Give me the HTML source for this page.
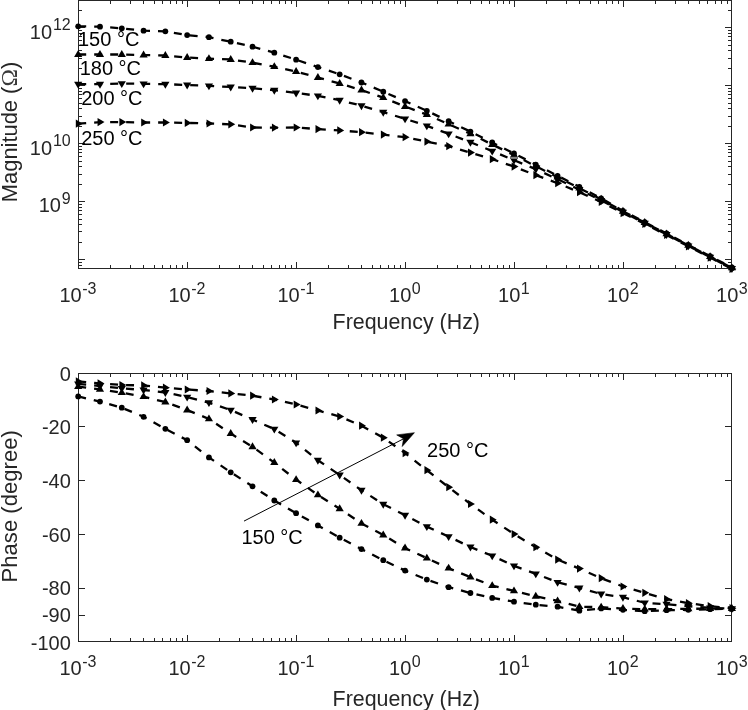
<!DOCTYPE html>
<html lang="en"><head><meta charset="utf-8"><title>Impedance magnitude and phase vs frequency</title>
<style>html,body{margin:0;padding:0;background:#fff;}body{width:748px;height:710px;overflow:hidden;}svg{display:block;}</style>
</head><body>
<svg width="748" height="710" viewBox="0 0 748 710" font-family="'Liberation Sans', sans-serif" fill="#262626">
<rect width="748" height="710" fill="#fff"/>
<g id="mag">
<rect x="78.5" y="0.5" width="653.0" height="268.0" fill="none" stroke="#262626" stroke-width="1"/>
<path d="M110.5 268.5v-3.5M110.5 0.5v3.5M130.5 268.5v-3.5M130.5 0.5v3.5M143.5 268.5v-3.5M143.5 0.5v3.5M154.5 268.5v-3.5M154.5 0.5v3.5M162.5 268.5v-3.5M162.5 0.5v3.5M170.5 268.5v-3.5M170.5 0.5v3.5M176.5 268.5v-3.5M176.5 0.5v3.5M182.5 268.5v-3.5M182.5 0.5v3.5M187.5 268.5v-6.5M187.5 0.5v6.5M219.5 268.5v-3.5M219.5 0.5v3.5M239.5 268.5v-3.5M239.5 0.5v3.5M252.5 268.5v-3.5M252.5 0.5v3.5M263.5 268.5v-3.5M263.5 0.5v3.5M271.5 268.5v-3.5M271.5 0.5v3.5M279.5 268.5v-3.5M279.5 0.5v3.5M285.5 268.5v-3.5M285.5 0.5v3.5M291.5 268.5v-3.5M291.5 0.5v3.5M296.5 268.5v-6.5M296.5 0.5v6.5M328.5 268.5v-3.5M328.5 0.5v3.5M348.5 268.5v-3.5M348.5 0.5v3.5M361.5 268.5v-3.5M361.5 0.5v3.5M372.5 268.5v-3.5M372.5 0.5v3.5M380.5 268.5v-3.5M380.5 0.5v3.5M388.5 268.5v-3.5M388.5 0.5v3.5M394.5 268.5v-3.5M394.5 0.5v3.5M400.5 268.5v-3.5M400.5 0.5v3.5M405.5 268.5v-6.5M405.5 0.5v6.5M437.5 268.5v-3.5M437.5 0.5v3.5M457.5 268.5v-3.5M457.5 0.5v3.5M470.5 268.5v-3.5M470.5 0.5v3.5M481.5 268.5v-3.5M481.5 0.5v3.5M489.5 268.5v-3.5M489.5 0.5v3.5M497.5 268.5v-3.5M497.5 0.5v3.5M503.5 268.5v-3.5M503.5 0.5v3.5M509.5 268.5v-3.5M509.5 0.5v3.5M514.5 268.5v-6.5M514.5 0.5v6.5M546.5 268.5v-3.5M546.5 0.5v3.5M566.5 268.5v-3.5M566.5 0.5v3.5M579.5 268.5v-3.5M579.5 0.5v3.5M590.5 268.5v-3.5M590.5 0.5v3.5M598.5 268.5v-3.5M598.5 0.5v3.5M606.5 268.5v-3.5M606.5 0.5v3.5M612.5 268.5v-3.5M612.5 0.5v3.5M618.5 268.5v-3.5M618.5 0.5v3.5M623.5 268.5v-6.5M623.5 0.5v6.5M655.5 268.5v-3.5M655.5 0.5v3.5M675.5 268.5v-3.5M675.5 0.5v3.5M688.5 268.5v-3.5M688.5 0.5v3.5M699.5 268.5v-3.5M699.5 0.5v3.5M707.5 268.5v-3.5M707.5 0.5v3.5M715.5 268.5v-3.5M715.5 0.5v3.5M721.5 268.5v-3.5M721.5 0.5v3.5M727.5 268.5v-3.5M727.5 0.5v3.5" stroke="#262626" stroke-width="1" fill="none"/>
<path d="M78.5 10.5h3.5M731.5 10.5h-3.5M78.5 27.5h6.5M731.5 27.5h-6.5M78.5 30.5h3.5M731.5 30.5h-3.5M78.5 33.5h3.5M731.5 33.5h-3.5M78.5 36.5h3.5M731.5 36.5h-3.5M78.5 40.5h3.5M731.5 40.5h-3.5M78.5 45.5h3.5M731.5 45.5h-3.5M78.5 50.5h3.5M731.5 50.5h-3.5M78.5 58.5h3.5M731.5 58.5h-3.5M78.5 68.5h3.5M731.5 68.5h-3.5M78.5 85.5h6.5M731.5 85.5h-6.5M78.5 88.5h3.5M731.5 88.5h-3.5M78.5 91.5h3.5M731.5 91.5h-3.5M78.5 94.5h3.5M731.5 94.5h-3.5M78.5 98.5h3.5M731.5 98.5h-3.5M78.5 103.5h3.5M731.5 103.5h-3.5M78.5 108.5h3.5M731.5 108.5h-3.5M78.5 116.5h3.5M731.5 116.5h-3.5M78.5 126.5h3.5M731.5 126.5h-3.5M78.5 143.5h6.5M731.5 143.5h-6.5M78.5 146.5h3.5M731.5 146.5h-3.5M78.5 149.5h3.5M731.5 149.5h-3.5M78.5 152.5h3.5M731.5 152.5h-3.5M78.5 156.5h3.5M731.5 156.5h-3.5M78.5 161.5h3.5M731.5 161.5h-3.5M78.5 166.5h3.5M731.5 166.5h-3.5M78.5 174.5h3.5M731.5 174.5h-3.5M78.5 184.5h3.5M731.5 184.5h-3.5M78.5 201.5h6.5M731.5 201.5h-6.5M78.5 204.5h3.5M731.5 204.5h-3.5M78.5 207.5h3.5M731.5 207.5h-3.5M78.5 210.5h3.5M731.5 210.5h-3.5M78.5 214.5h3.5M731.5 214.5h-3.5M78.5 219.5h3.5M731.5 219.5h-3.5M78.5 224.5h3.5M731.5 224.5h-3.5M78.5 231.5h3.5M731.5 231.5h-3.5M78.5 242.5h3.5M731.5 242.5h-3.5M78.5 259.5h6.5M731.5 259.5h-6.5M78.5 262.5h3.5M731.5 262.5h-3.5M78.5 265.5h3.5M731.5 265.5h-3.5" stroke="#262626" stroke-width="1" fill="none"/>
<polyline points="78.20,26.30 99.99,26.70 121.78,28.30 143.57,30.70 165.36,31.30 187.15,35.10 208.94,37.20 230.73,41.70 252.52,46.70 274.31,52.70 296.10,59.70 317.89,67.10 339.68,74.30 361.47,82.50 383.26,91.70 405.05,101.10 426.84,110.80 448.63,121.20 470.42,131.60 492.21,142.50 514.00,153.50 535.79,164.60 557.58,175.80 579.37,186.80 601.16,198.30 622.95,210.90 644.74,222.10 666.53,233.50 688.32,244.90 710.11,256.20 731.90,267.50" fill="none" stroke="#000" stroke-width="2.3" stroke-dasharray="8 8"/>
<g fill="#000"><circle cx="78.20" cy="26.30" r="2.9"/><circle cx="99.99" cy="26.70" r="2.9"/><circle cx="121.78" cy="28.30" r="2.9"/><circle cx="143.57" cy="30.70" r="2.9"/><circle cx="165.36" cy="31.30" r="2.9"/><circle cx="187.15" cy="35.10" r="2.9"/><circle cx="208.94" cy="37.20" r="2.9"/><circle cx="230.73" cy="41.70" r="2.9"/><circle cx="252.52" cy="46.70" r="2.9"/><circle cx="274.31" cy="52.70" r="2.9"/><circle cx="296.10" cy="59.70" r="2.9"/><circle cx="317.89" cy="67.10" r="2.9"/><circle cx="339.68" cy="74.30" r="2.9"/><circle cx="361.47" cy="82.50" r="2.9"/><circle cx="383.26" cy="91.70" r="2.9"/><circle cx="405.05" cy="101.10" r="2.9"/><circle cx="426.84" cy="110.80" r="2.9"/><circle cx="448.63" cy="121.20" r="2.9"/><circle cx="470.42" cy="131.60" r="2.9"/><circle cx="492.21" cy="142.50" r="2.9"/><circle cx="514.00" cy="153.50" r="2.9"/><circle cx="535.79" cy="164.60" r="2.9"/><circle cx="557.58" cy="175.80" r="2.9"/><circle cx="579.37" cy="186.80" r="2.9"/><circle cx="601.16" cy="198.30" r="2.9"/><circle cx="622.95" cy="210.90" r="2.9"/><circle cx="644.74" cy="222.10" r="2.9"/><circle cx="666.53" cy="233.50" r="2.9"/><circle cx="688.32" cy="244.90" r="2.9"/><circle cx="710.11" cy="256.20" r="2.9"/><circle cx="731.90" cy="267.50" r="2.9"/></g>
<polyline points="78.20,54.50 99.99,54.50 121.78,54.50 143.57,55.10 165.36,55.50 187.15,57.50 208.94,58.70 230.73,59.50 252.52,62.70 274.31,66.70 296.10,71.50 317.89,77.50 339.68,83.50 361.47,90.10 383.26,97.70 405.05,106.50 426.84,114.60 448.63,124.20 470.42,133.80 492.21,144.50 514.00,155.10 535.79,166.20 557.58,177.20 579.37,188.20 601.16,199.30 622.95,211.35 644.74,222.55 666.53,233.95 688.32,245.35 710.11,256.65 731.90,267.95" fill="none" stroke="#000" stroke-width="2.3" stroke-dasharray="8 8"/>
<g fill="#000"><polygon points="78.20,50.00 74.10,56.90 82.30,56.90"/><polygon points="99.99,50.00 95.89,56.90 104.09,56.90"/><polygon points="121.78,50.00 117.68,56.90 125.88,56.90"/><polygon points="143.57,50.60 139.47,57.50 147.67,57.50"/><polygon points="165.36,51.00 161.26,57.90 169.46,57.90"/><polygon points="187.15,53.00 183.05,59.90 191.25,59.90"/><polygon points="208.94,54.20 204.84,61.10 213.04,61.10"/><polygon points="230.73,55.00 226.63,61.90 234.83,61.90"/><polygon points="252.52,58.20 248.42,65.10 256.62,65.10"/><polygon points="274.31,62.20 270.21,69.10 278.41,69.10"/><polygon points="296.10,67.00 292.00,73.90 300.20,73.90"/><polygon points="317.89,73.00 313.79,79.90 321.99,79.90"/><polygon points="339.68,79.00 335.58,85.90 343.78,85.90"/><polygon points="361.47,85.60 357.37,92.50 365.57,92.50"/><polygon points="383.26,93.20 379.16,100.10 387.36,100.10"/><polygon points="405.05,102.00 400.95,108.90 409.15,108.90"/><polygon points="426.84,110.10 422.74,117.00 430.94,117.00"/><polygon points="448.63,119.70 444.53,126.60 452.73,126.60"/><polygon points="470.42,129.30 466.32,136.20 474.52,136.20"/><polygon points="492.21,140.00 488.11,146.90 496.31,146.90"/><polygon points="514.00,150.60 509.90,157.50 518.10,157.50"/><polygon points="535.79,161.70 531.69,168.60 539.89,168.60"/><polygon points="557.58,172.70 553.48,179.60 561.68,179.60"/><polygon points="579.37,183.70 575.27,190.60 583.47,190.60"/><polygon points="601.16,194.80 597.06,201.70 605.26,201.70"/><polygon points="622.95,206.85 618.85,213.75 627.05,213.75"/><polygon points="644.74,218.05 640.64,224.95 648.84,224.95"/><polygon points="666.53,229.45 662.43,236.35 670.63,236.35"/><polygon points="688.32,240.85 684.22,247.75 692.42,247.75"/><polygon points="710.11,252.15 706.01,259.05 714.21,259.05"/><polygon points="731.90,263.45 727.80,270.35 736.00,270.35"/></g>
<polyline points="78.20,84.20 99.99,84.20 121.78,83.60 143.57,83.80 165.36,84.20 187.15,85.00 208.94,85.80 230.73,87.00 252.52,88.20 274.31,90.20 296.10,93.00 317.89,95.80 339.68,100.20 361.47,105.70 383.26,112.20 405.05,118.80 426.84,125.80 448.63,133.80 470.42,142.20 492.21,151.10 514.00,160.20 535.79,169.20 557.58,179.20 579.37,189.60 601.16,200.30 622.95,212.05 644.74,223.15 666.53,234.45 688.32,245.85 710.11,257.15 731.90,268.45" fill="none" stroke="#000" stroke-width="2.3" stroke-dasharray="8 8"/>
<g fill="#000"><polygon points="78.20,88.70 74.10,81.80 82.30,81.80"/><polygon points="99.99,88.70 95.89,81.80 104.09,81.80"/><polygon points="121.78,88.10 117.68,81.20 125.88,81.20"/><polygon points="143.57,88.30 139.47,81.40 147.67,81.40"/><polygon points="165.36,88.70 161.26,81.80 169.46,81.80"/><polygon points="187.15,89.50 183.05,82.60 191.25,82.60"/><polygon points="208.94,90.30 204.84,83.40 213.04,83.40"/><polygon points="230.73,91.50 226.63,84.60 234.83,84.60"/><polygon points="252.52,92.70 248.42,85.80 256.62,85.80"/><polygon points="274.31,94.70 270.21,87.80 278.41,87.80"/><polygon points="296.10,97.50 292.00,90.60 300.20,90.60"/><polygon points="317.89,100.30 313.79,93.40 321.99,93.40"/><polygon points="339.68,104.70 335.58,97.80 343.78,97.80"/><polygon points="361.47,110.20 357.37,103.30 365.57,103.30"/><polygon points="383.26,116.70 379.16,109.80 387.36,109.80"/><polygon points="405.05,123.30 400.95,116.40 409.15,116.40"/><polygon points="426.84,130.30 422.74,123.40 430.94,123.40"/><polygon points="448.63,138.30 444.53,131.40 452.73,131.40"/><polygon points="470.42,146.70 466.32,139.80 474.52,139.80"/><polygon points="492.21,155.60 488.11,148.70 496.31,148.70"/><polygon points="514.00,164.70 509.90,157.80 518.10,157.80"/><polygon points="535.79,173.70 531.69,166.80 539.89,166.80"/><polygon points="557.58,183.70 553.48,176.80 561.68,176.80"/><polygon points="579.37,194.10 575.27,187.20 583.47,187.20"/><polygon points="601.16,204.80 597.06,197.90 605.26,197.90"/><polygon points="622.95,216.55 618.85,209.65 627.05,209.65"/><polygon points="644.74,227.65 640.64,220.75 648.84,220.75"/><polygon points="666.53,238.95 662.43,232.05 670.63,232.05"/><polygon points="688.32,250.35 684.22,243.45 692.42,243.45"/><polygon points="710.11,261.65 706.01,254.75 714.21,254.75"/><polygon points="731.90,272.95 727.80,266.05 736.00,266.05"/></g>
<polyline points="78.20,123.70 99.99,122.10 121.78,122.10 143.57,122.50 165.36,122.50 187.15,122.90 208.94,123.50 230.73,124.30 252.52,127.50 274.31,127.70 296.10,127.50 317.89,129.10 339.68,130.40 361.47,132.20 383.26,134.60 405.05,137.20 426.84,141.60 448.63,146.20 470.42,152.60 492.21,159.20 514.00,166.60 535.79,175.20 557.58,183.20 579.37,192.20 601.16,201.90 622.95,213.10 644.74,223.90 666.53,235.00 688.32,246.30 710.11,257.60 731.90,268.90" fill="none" stroke="#000" stroke-width="2.3" stroke-dasharray="8 8"/>
<g fill="#000"><polygon points="82.70,123.70 75.80,119.60 75.80,127.80"/><polygon points="104.49,122.10 97.59,118.00 97.59,126.20"/><polygon points="126.28,122.10 119.38,118.00 119.38,126.20"/><polygon points="148.07,122.50 141.17,118.40 141.17,126.60"/><polygon points="169.86,122.50 162.96,118.40 162.96,126.60"/><polygon points="191.65,122.90 184.75,118.80 184.75,127.00"/><polygon points="213.44,123.50 206.54,119.40 206.54,127.60"/><polygon points="235.23,124.30 228.33,120.20 228.33,128.40"/><polygon points="257.02,127.50 250.12,123.40 250.12,131.60"/><polygon points="278.81,127.70 271.91,123.60 271.91,131.80"/><polygon points="300.60,127.50 293.70,123.40 293.70,131.60"/><polygon points="322.39,129.10 315.49,125.00 315.49,133.20"/><polygon points="344.18,130.40 337.28,126.30 337.28,134.50"/><polygon points="365.97,132.20 359.07,128.10 359.07,136.30"/><polygon points="387.76,134.60 380.86,130.50 380.86,138.70"/><polygon points="409.55,137.20 402.65,133.10 402.65,141.30"/><polygon points="431.34,141.60 424.44,137.50 424.44,145.70"/><polygon points="453.13,146.20 446.23,142.10 446.23,150.30"/><polygon points="474.92,152.60 468.02,148.50 468.02,156.70"/><polygon points="496.71,159.20 489.81,155.10 489.81,163.30"/><polygon points="518.50,166.60 511.60,162.50 511.60,170.70"/><polygon points="540.29,175.20 533.39,171.10 533.39,179.30"/><polygon points="562.08,183.20 555.18,179.10 555.18,187.30"/><polygon points="583.87,192.20 576.97,188.10 576.97,196.30"/><polygon points="605.66,201.90 598.76,197.80 598.76,206.00"/><polygon points="627.45,213.10 620.55,209.00 620.55,217.20"/><polygon points="649.24,223.90 642.34,219.80 642.34,228.00"/><polygon points="671.03,235.00 664.13,230.90 664.13,239.10"/><polygon points="692.82,246.30 685.92,242.20 685.92,250.40"/><polygon points="714.61,257.60 707.71,253.50 707.71,261.70"/><polygon points="736.40,268.90 729.50,264.80 729.50,273.00"/></g>
<rect x="510.7" y="156.8" width="6.6" height="2.1" fill="#808080"/>
<text x="59.41" y="302.10" font-size="20">10</text><text x="82.16" y="293.70" font-size="16">-3</text>
<text x="168.41" y="302.10" font-size="20">10</text><text x="191.16" y="293.70" font-size="16">-2</text>
<text x="277.41" y="302.10" font-size="20">10</text><text x="300.15" y="293.70" font-size="16">-1</text>
<text x="389.08" y="302.10" font-size="20">10</text><text x="411.82" y="293.70" font-size="16">0</text>
<text x="498.08" y="302.10" font-size="20">10</text><text x="520.82" y="293.70" font-size="16">1</text>
<text x="607.08" y="302.10" font-size="20">10</text><text x="629.82" y="293.70" font-size="16">2</text>
<text x="716.08" y="302.10" font-size="20">10</text><text x="738.82" y="293.70" font-size="16">3</text>
<text x="29.86" y="38.65" font-size="20">10</text><text x="52.90" y="29.75" font-size="16">12</text>
<text x="29.86" y="154.51" font-size="20">10</text><text x="52.90" y="145.61" font-size="16">10</text>
<text x="38.76" y="212.44" font-size="20">10</text><text x="61.80" y="203.54" font-size="16">9</text>
<text x="406.3" y="329.4" font-size="21.4" text-anchor="middle">Frequency (Hz)</text>
<text transform="translate(16.5 132) rotate(-90)" font-size="21.9" text-anchor="middle">Magnitude (<tspan font-family="'Liberation Serif', serif" font-size="23.5" fill="#3a3a3a">Ω</tspan>)</text>
<text x="78.0" y="46.0" font-size="20" fill="#000">150 °C</text>
<text x="79.7" y="74.8" font-size="20" fill="#000">180 °C</text>
<text x="81.2" y="105.2" font-size="20" fill="#000">200 °C</text>
<text x="81.2" y="145.2" font-size="20" fill="#000">250 °C</text>
</g>
<g id="phase">
<rect x="78.5" y="373.5" width="653.0" height="268.0" fill="none" stroke="#262626" stroke-width="1"/>
<path d="M110.5 641.5v-3.5M110.5 373.5v3.5M130.5 641.5v-3.5M130.5 373.5v3.5M143.5 641.5v-3.5M143.5 373.5v3.5M154.5 641.5v-3.5M154.5 373.5v3.5M162.5 641.5v-3.5M162.5 373.5v3.5M170.5 641.5v-3.5M170.5 373.5v3.5M176.5 641.5v-3.5M176.5 373.5v3.5M182.5 641.5v-3.5M182.5 373.5v3.5M187.5 641.5v-6.5M187.5 373.5v6.5M219.5 641.5v-3.5M219.5 373.5v3.5M239.5 641.5v-3.5M239.5 373.5v3.5M252.5 641.5v-3.5M252.5 373.5v3.5M263.5 641.5v-3.5M263.5 373.5v3.5M271.5 641.5v-3.5M271.5 373.5v3.5M279.5 641.5v-3.5M279.5 373.5v3.5M285.5 641.5v-3.5M285.5 373.5v3.5M291.5 641.5v-3.5M291.5 373.5v3.5M296.5 641.5v-6.5M296.5 373.5v6.5M328.5 641.5v-3.5M328.5 373.5v3.5M348.5 641.5v-3.5M348.5 373.5v3.5M361.5 641.5v-3.5M361.5 373.5v3.5M372.5 641.5v-3.5M372.5 373.5v3.5M380.5 641.5v-3.5M380.5 373.5v3.5M388.5 641.5v-3.5M388.5 373.5v3.5M394.5 641.5v-3.5M394.5 373.5v3.5M400.5 641.5v-3.5M400.5 373.5v3.5M405.5 641.5v-6.5M405.5 373.5v6.5M437.5 641.5v-3.5M437.5 373.5v3.5M457.5 641.5v-3.5M457.5 373.5v3.5M470.5 641.5v-3.5M470.5 373.5v3.5M481.5 641.5v-3.5M481.5 373.5v3.5M489.5 641.5v-3.5M489.5 373.5v3.5M497.5 641.5v-3.5M497.5 373.5v3.5M503.5 641.5v-3.5M503.5 373.5v3.5M509.5 641.5v-3.5M509.5 373.5v3.5M514.5 641.5v-6.5M514.5 373.5v6.5M546.5 641.5v-3.5M546.5 373.5v3.5M566.5 641.5v-3.5M566.5 373.5v3.5M579.5 641.5v-3.5M579.5 373.5v3.5M590.5 641.5v-3.5M590.5 373.5v3.5M598.5 641.5v-3.5M598.5 373.5v3.5M606.5 641.5v-3.5M606.5 373.5v3.5M612.5 641.5v-3.5M612.5 373.5v3.5M618.5 641.5v-3.5M618.5 373.5v3.5M623.5 641.5v-6.5M623.5 373.5v6.5M655.5 641.5v-3.5M655.5 373.5v3.5M675.5 641.5v-3.5M675.5 373.5v3.5M688.5 641.5v-3.5M688.5 373.5v3.5M699.5 641.5v-3.5M699.5 373.5v3.5M707.5 641.5v-3.5M707.5 373.5v3.5M715.5 641.5v-3.5M715.5 373.5v3.5M721.5 641.5v-3.5M721.5 373.5v3.5M727.5 641.5v-3.5M727.5 373.5v3.5" stroke="#262626" stroke-width="1" fill="none"/>
<path d="M78.5 426.5h6.5M731.5 426.5h-6.5M78.5 480.5h6.5M731.5 480.5h-6.5M78.5 534.5h6.5M731.5 534.5h-6.5M78.5 588.5h6.5M731.5 588.5h-6.5M78.5 615.5h6.5M731.5 615.5h-6.5" stroke="#262626" stroke-width="1" fill="none"/>
<polyline points="78.20,396.40 99.99,401.60 121.78,407.70 143.57,416.80 165.36,428.80 187.15,440.20 208.94,457.40 230.73,472.30 252.52,486.30 274.31,500.50 296.10,513.20 317.89,525.40 339.68,537.70 361.47,549.10 383.26,560.20 405.05,570.60 426.84,579.60 448.63,587.20 470.42,593.00 492.21,597.90 514.00,601.70 535.79,604.70 557.58,606.70 579.37,610.70 601.16,608.40 622.95,609.80 644.74,611.20 666.53,610.20 688.32,609.80 710.11,609.20 731.90,608.80" fill="none" stroke="#000" stroke-width="2.3" stroke-dasharray="8 8"/>
<g fill="#000"><circle cx="78.20" cy="396.40" r="2.9"/><circle cx="99.99" cy="401.60" r="2.9"/><circle cx="121.78" cy="407.70" r="2.9"/><circle cx="143.57" cy="416.80" r="2.9"/><circle cx="165.36" cy="428.80" r="2.9"/><circle cx="187.15" cy="440.20" r="2.9"/><circle cx="208.94" cy="457.40" r="2.9"/><circle cx="230.73" cy="472.30" r="2.9"/><circle cx="252.52" cy="486.30" r="2.9"/><circle cx="274.31" cy="500.50" r="2.9"/><circle cx="296.10" cy="513.20" r="2.9"/><circle cx="317.89" cy="525.40" r="2.9"/><circle cx="339.68" cy="537.70" r="2.9"/><circle cx="361.47" cy="549.10" r="2.9"/><circle cx="383.26" cy="560.20" r="2.9"/><circle cx="405.05" cy="570.60" r="2.9"/><circle cx="426.84" cy="579.60" r="2.9"/><circle cx="448.63" cy="587.20" r="2.9"/><circle cx="470.42" cy="593.00" r="2.9"/><circle cx="492.21" cy="597.90" r="2.9"/><circle cx="514.00" cy="601.70" r="2.9"/><circle cx="535.79" cy="604.70" r="2.9"/><circle cx="557.58" cy="606.70" r="2.9"/><circle cx="579.37" cy="610.70" r="2.9"/><circle cx="601.16" cy="608.40" r="2.9"/><circle cx="622.95" cy="609.80" r="2.9"/><circle cx="644.74" cy="611.20" r="2.9"/><circle cx="666.53" cy="610.20" r="2.9"/><circle cx="688.32" cy="609.80" r="2.9"/><circle cx="710.11" cy="609.20" r="2.9"/><circle cx="731.90" cy="608.80" r="2.9"/></g>
<polyline points="78.20,386.70 99.99,389.40 121.78,392.70 143.57,396.70 165.36,402.10 187.15,410.10 208.94,418.90 230.73,433.60 252.52,446.80 274.31,462.60 296.10,479.70 317.89,494.90 339.68,508.80 361.47,523.40 383.26,535.00 405.05,548.10 426.84,558.20 448.63,568.20 470.42,577.20 492.21,585.70 514.00,590.90 535.79,596.30 557.58,600.90 579.37,606.70 601.16,607.20 622.95,608.60 644.74,609.20 666.53,609.20 688.32,608.80 710.11,608.60 731.90,608.60" fill="none" stroke="#000" stroke-width="2.3" stroke-dasharray="8 8"/>
<g fill="#000"><polygon points="78.20,382.20 74.10,389.10 82.30,389.10"/><polygon points="99.99,384.90 95.89,391.80 104.09,391.80"/><polygon points="121.78,388.20 117.68,395.10 125.88,395.10"/><polygon points="143.57,392.20 139.47,399.10 147.67,399.10"/><polygon points="165.36,397.60 161.26,404.50 169.46,404.50"/><polygon points="187.15,405.60 183.05,412.50 191.25,412.50"/><polygon points="208.94,414.40 204.84,421.30 213.04,421.30"/><polygon points="230.73,429.10 226.63,436.00 234.83,436.00"/><polygon points="252.52,442.30 248.42,449.20 256.62,449.20"/><polygon points="274.31,458.10 270.21,465.00 278.41,465.00"/><polygon points="296.10,475.20 292.00,482.10 300.20,482.10"/><polygon points="317.89,490.40 313.79,497.30 321.99,497.30"/><polygon points="339.68,504.30 335.58,511.20 343.78,511.20"/><polygon points="361.47,518.90 357.37,525.80 365.57,525.80"/><polygon points="383.26,530.50 379.16,537.40 387.36,537.40"/><polygon points="405.05,543.60 400.95,550.50 409.15,550.50"/><polygon points="426.84,553.70 422.74,560.60 430.94,560.60"/><polygon points="448.63,563.70 444.53,570.60 452.73,570.60"/><polygon points="470.42,572.70 466.32,579.60 474.52,579.60"/><polygon points="492.21,581.20 488.11,588.10 496.31,588.10"/><polygon points="514.00,586.40 509.90,593.30 518.10,593.30"/><polygon points="535.79,591.80 531.69,598.70 539.89,598.70"/><polygon points="557.58,596.40 553.48,603.30 561.68,603.30"/><polygon points="579.37,602.20 575.27,609.10 583.47,609.10"/><polygon points="601.16,602.70 597.06,609.60 605.26,609.60"/><polygon points="622.95,604.10 618.85,611.00 627.05,611.00"/><polygon points="644.74,604.70 640.64,611.60 648.84,611.60"/><polygon points="666.53,604.70 662.43,611.60 670.63,611.60"/><polygon points="688.32,604.30 684.22,611.20 692.42,611.20"/><polygon points="710.11,604.10 706.01,611.00 714.21,611.00"/><polygon points="731.90,604.10 727.80,611.00 736.00,611.00"/></g>
<polyline points="78.20,383.80 99.99,386.00 121.78,388.30 143.57,390.00 165.36,392.50 187.15,397.10 208.94,402.60 230.73,410.10 252.52,419.50 274.31,429.10 296.10,442.80 317.89,460.20 339.68,475.00 361.47,490.20 383.26,504.20 405.05,515.20 426.84,526.60 448.63,536.60 470.42,547.00 492.21,555.80 514.00,565.80 535.79,573.80 557.58,582.30 579.37,587.90 601.16,594.00 622.95,597.20 644.74,602.80 666.53,604.20 688.32,606.20 710.11,607.80 731.90,608.60" fill="none" stroke="#000" stroke-width="2.3" stroke-dasharray="8 8"/>
<g fill="#000"><polygon points="78.20,388.30 74.10,381.40 82.30,381.40"/><polygon points="99.99,390.50 95.89,383.60 104.09,383.60"/><polygon points="121.78,392.80 117.68,385.90 125.88,385.90"/><polygon points="143.57,394.50 139.47,387.60 147.67,387.60"/><polygon points="165.36,397.00 161.26,390.10 169.46,390.10"/><polygon points="187.15,401.60 183.05,394.70 191.25,394.70"/><polygon points="208.94,407.10 204.84,400.20 213.04,400.20"/><polygon points="230.73,414.60 226.63,407.70 234.83,407.70"/><polygon points="252.52,424.00 248.42,417.10 256.62,417.10"/><polygon points="274.31,433.60 270.21,426.70 278.41,426.70"/><polygon points="296.10,447.30 292.00,440.40 300.20,440.40"/><polygon points="317.89,464.70 313.79,457.80 321.99,457.80"/><polygon points="339.68,479.50 335.58,472.60 343.78,472.60"/><polygon points="361.47,494.70 357.37,487.80 365.57,487.80"/><polygon points="383.26,508.70 379.16,501.80 387.36,501.80"/><polygon points="405.05,519.70 400.95,512.80 409.15,512.80"/><polygon points="426.84,531.10 422.74,524.20 430.94,524.20"/><polygon points="448.63,541.10 444.53,534.20 452.73,534.20"/><polygon points="470.42,551.50 466.32,544.60 474.52,544.60"/><polygon points="492.21,560.30 488.11,553.40 496.31,553.40"/><polygon points="514.00,570.30 509.90,563.40 518.10,563.40"/><polygon points="535.79,578.30 531.69,571.40 539.89,571.40"/><polygon points="557.58,586.80 553.48,579.90 561.68,579.90"/><polygon points="579.37,592.40 575.27,585.50 583.47,585.50"/><polygon points="601.16,598.50 597.06,591.60 605.26,591.60"/><polygon points="622.95,601.70 618.85,594.80 627.05,594.80"/><polygon points="644.74,607.30 640.64,600.40 648.84,600.40"/><polygon points="666.53,608.70 662.43,601.80 670.63,601.80"/><polygon points="688.32,610.70 684.22,603.80 692.42,603.80"/><polygon points="710.11,612.30 706.01,605.40 714.21,605.40"/><polygon points="731.90,613.10 727.80,606.20 736.00,606.20"/></g>
<polyline points="78.20,381.40 99.99,383.40 121.78,385.00 143.57,385.40 165.36,387.70 187.15,389.50 208.94,391.00 230.73,393.40 252.52,395.70 274.31,399.50 296.10,404.50 317.89,410.50 339.68,416.50 361.47,425.70 383.26,437.70 405.05,453.10 426.84,470.20 448.63,487.20 470.42,504.00 492.21,519.70 514.00,534.10 535.79,547.20 557.58,559.60 579.37,568.60 601.16,578.20 622.95,586.50 644.74,592.80 666.53,599.20 688.32,603.20 710.11,606.20 731.90,608.20" fill="none" stroke="#000" stroke-width="2.3" stroke-dasharray="8 8"/>
<g fill="#000"><polygon points="82.70,381.40 75.80,377.30 75.80,385.50"/><polygon points="104.49,383.40 97.59,379.30 97.59,387.50"/><polygon points="126.28,385.00 119.38,380.90 119.38,389.10"/><polygon points="148.07,385.40 141.17,381.30 141.17,389.50"/><polygon points="169.86,387.70 162.96,383.60 162.96,391.80"/><polygon points="191.65,389.50 184.75,385.40 184.75,393.60"/><polygon points="213.44,391.00 206.54,386.90 206.54,395.10"/><polygon points="235.23,393.40 228.33,389.30 228.33,397.50"/><polygon points="257.02,395.70 250.12,391.60 250.12,399.80"/><polygon points="278.81,399.50 271.91,395.40 271.91,403.60"/><polygon points="300.60,404.50 293.70,400.40 293.70,408.60"/><polygon points="322.39,410.50 315.49,406.40 315.49,414.60"/><polygon points="344.18,416.50 337.28,412.40 337.28,420.60"/><polygon points="365.97,425.70 359.07,421.60 359.07,429.80"/><polygon points="387.76,437.70 380.86,433.60 380.86,441.80"/><polygon points="409.55,453.10 402.65,449.00 402.65,457.20"/><polygon points="431.34,470.20 424.44,466.10 424.44,474.30"/><polygon points="453.13,487.20 446.23,483.10 446.23,491.30"/><polygon points="474.92,504.00 468.02,499.90 468.02,508.10"/><polygon points="496.71,519.70 489.81,515.60 489.81,523.80"/><polygon points="518.50,534.10 511.60,530.00 511.60,538.20"/><polygon points="540.29,547.20 533.39,543.10 533.39,551.30"/><polygon points="562.08,559.60 555.18,555.50 555.18,563.70"/><polygon points="583.87,568.60 576.97,564.50 576.97,572.70"/><polygon points="605.66,578.20 598.76,574.10 598.76,582.30"/><polygon points="627.45,586.50 620.55,582.40 620.55,590.60"/><polygon points="649.24,592.80 642.34,588.70 642.34,596.90"/><polygon points="671.03,599.20 664.13,595.10 664.13,603.30"/><polygon points="692.82,603.20 685.92,599.10 685.92,607.30"/><polygon points="714.61,606.20 707.71,602.10 707.71,610.30"/><polygon points="736.40,608.20 729.50,604.10 729.50,612.30"/></g>
<text x="59.41" y="675.10" font-size="20">10</text><text x="82.16" y="666.70" font-size="16">-3</text>
<text x="168.41" y="675.10" font-size="20">10</text><text x="191.16" y="666.70" font-size="16">-2</text>
<text x="277.41" y="675.10" font-size="20">10</text><text x="300.15" y="666.70" font-size="16">-1</text>
<text x="389.08" y="675.10" font-size="20">10</text><text x="411.82" y="666.70" font-size="16">0</text>
<text x="498.08" y="675.10" font-size="20">10</text><text x="520.82" y="666.70" font-size="16">1</text>
<text x="607.08" y="675.10" font-size="20">10</text><text x="629.82" y="666.70" font-size="16">2</text>
<text x="716.08" y="675.10" font-size="20">10</text><text x="738.82" y="666.70" font-size="16">3</text>
<text x="70.8" y="380.80" font-size="20" text-anchor="end">0</text>
<text x="70.8" y="434.40" font-size="20" text-anchor="end">-20</text>
<text x="70.8" y="488.00" font-size="20" text-anchor="end">-40</text>
<text x="70.8" y="541.60" font-size="20" text-anchor="end">-60</text>
<text x="70.8" y="595.20" font-size="20" text-anchor="end">-80</text>
<text x="70.8" y="622.00" font-size="20" text-anchor="end">-90</text>
<text x="70.8" y="649.90" font-size="20" text-anchor="end">-100</text>
<text x="406.3" y="705.5" font-size="21.4" text-anchor="middle">Frequency (Hz)</text>
<text transform="translate(16.5 506.3) rotate(-90)" font-size="22.1" text-anchor="middle">Phase (degree)</text>
<line x1="244" y1="521.1" x2="404" y2="438.55" stroke="#000" stroke-width="1"/>
<polygon points="414.4,432.7 396.7,434.9 403.5,438.8 402.2,446.5" fill="#000" stroke="#000" stroke-width="0.6" stroke-linejoin="round"/>
<text x="427.1" y="456.5" font-size="20" fill="#000">250 °C</text>
<text x="241.4" y="544.1" font-size="20" fill="#000">150 °C</text>
</g>
</svg>
</body></html>
